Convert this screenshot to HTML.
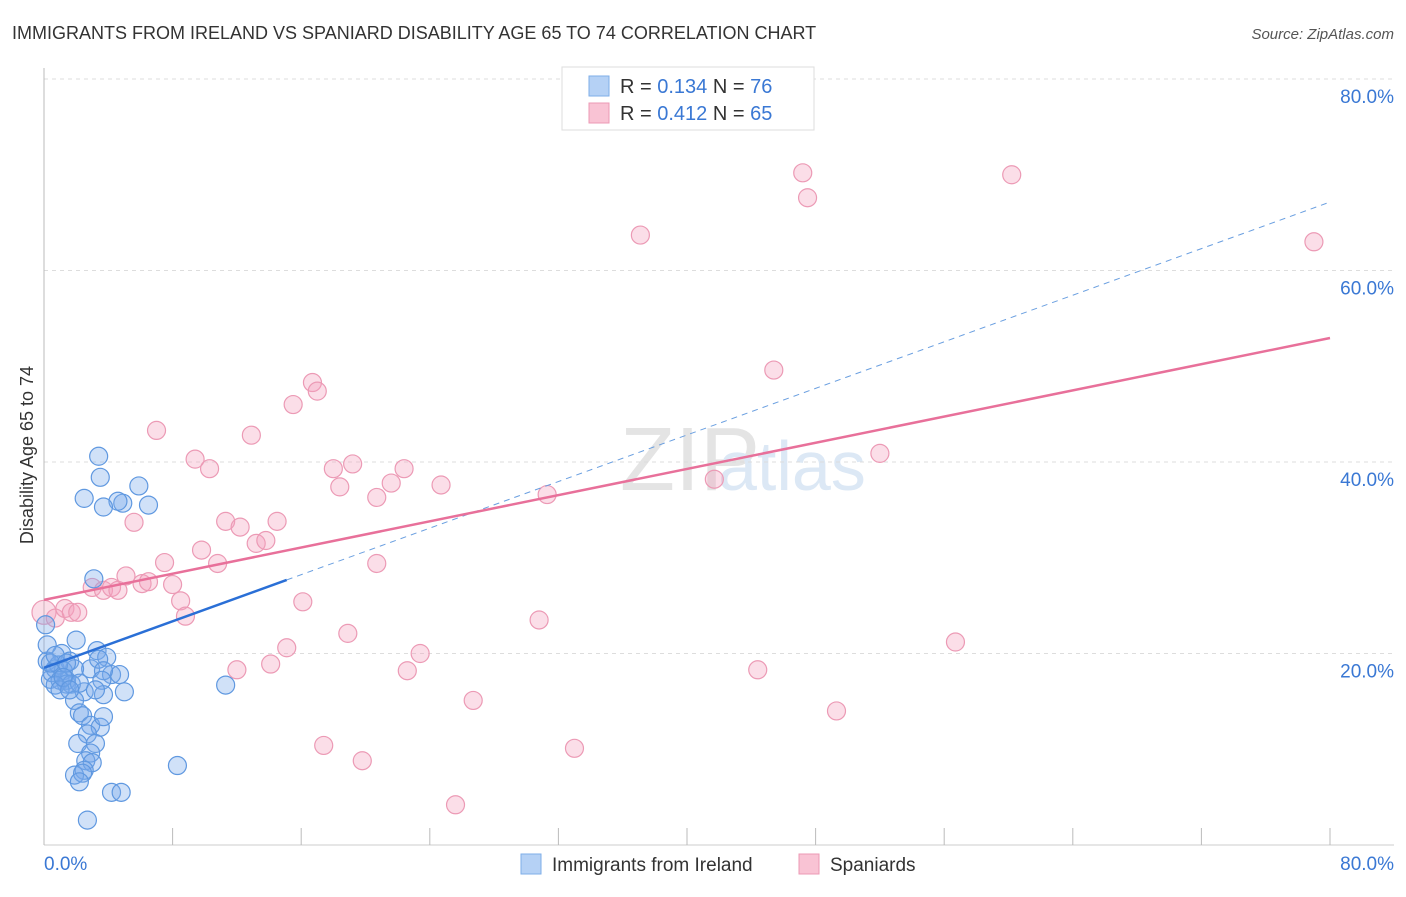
<!DOCTYPE html>
<html><head><meta charset="utf-8"><style>
body{margin:0;background:#fff;font-family:"Liberation Sans",sans-serif;}
svg text{font-family:"Liberation Sans",sans-serif;}
</style></head><body>
<svg id="chart" width="1406" height="892">
<text x="12" y="39" font-size="18" fill="#333">IMMIGRANTS FROM IRELAND VS SPANIARD DISABILITY AGE 65 TO 74 CORRELATION CHART</text>
<text x="1394" y="39" font-size="15" fill="#555" font-style="italic" text-anchor="end">Source: ZipAtlas.com</text>
<text x="620" y="490" font-size="90" fill="#e4e4e4" font-family="Liberation Serif">ZIP</text>
<text x="718" y="490" font-size="70" fill="#dce8f5">atlas</text>
<text transform="translate(33,455) rotate(-90)" font-size="18" fill="#333" text-anchor="middle">Disability Age 65 to 74</text>
<g id="grid"></g><g id="pts"></g><g id="lines"></g>
<g>
<rect x="562" y="67" width="252" height="63" fill="#fff" stroke="#ddd"/>
<rect x="589" y="76" width="20" height="20" fill="#b5d1f5" stroke="#7eaee8"/>
<rect x="589" y="103" width="20" height="20" fill="#f9c3d4" stroke="#ec9ab5"/>
<text x="620" y="93" font-size="20" fill="#333">R = <tspan fill="#3a78d4">0.134</tspan>   N = <tspan fill="#3a78d4">76</tspan></text>
<text x="620" y="120" font-size="20" fill="#333">R = <tspan fill="#3a78d4">0.412</tspan>   N = <tspan fill="#3a78d4">65</tspan></text>
</g>
<g>
<rect x="521" y="854" width="20" height="20" fill="#b5d1f5" stroke="#7eaee8"/>
<text x="552" y="871" font-size="19" fill="#333">Immigrants from Ireland</text>
<rect x="799" y="854" width="20" height="20" fill="#f9c3d4" stroke="#ec9ab5"/>
<text x="830" y="871" font-size="19" fill="#333">Spaniards</text>
</g>
</svg>
<script>
const yTicks=[20,40,60,80];
const yTickLabels=["20.0%","40.0%","60.0%","80.0%"];
const xTicks=[0,10,20,30,40,50,60,70,80];
const blueX=[3.4,3.5,2.5,4.9,5.9,4.6,3.7,6.5,3.1,2.0,3.3,3.9,2.9,4.2,4.7,5.0,2.5,3.4,1.4,0.4,0.2,0.7,1.1,1.6,1.9,1.2,0.9,0.5,1.0,1.4,1.7,2.2,0.7,0.4,3.7,3.6,3.7,1.9,2.2,2.4,2.9,3.5,3.7,2.7,2.1,3.2,2.9,2.6,3.0,2.5,1.9,2.4,2.2,4.2,4.8,2.7,8.3,11.3,0.1,0.2,0.7,1.4,3.2,1.0,1.2,1.6];
const blueY=[40.6,38.4,36.2,35.7,37.5,35.9,35.3,35.5,27.8,21.4,20.3,19.6,18.4,17.8,17.8,16.0,16.0,19.4,17.2,17.3,19.2,18.4,20.0,19.2,18.4,18.2,18.8,18.0,17.2,16.8,16.8,16.9,16.7,19.0,18.2,17.2,15.7,15.1,13.8,13.5,12.5,12.3,13.4,11.6,10.6,10.6,9.6,8.8,8.6,7.8,7.3,7.5,6.6,5.5,5.5,2.6,8.3,16.7,23.0,20.9,19.8,19.0,16.2,16.2,17.5,16.2];
const pinkX=[0,0.7,1.3,1.7,2.1,3.0,3.7,4.2,4.6,5.1,6.1,6.5,8.0,8.5,8.8,5.6,7.5,7.0,9.4,10.3,9.8,10.8,11.3,12.2,12.9,13.2,13.8,14.5,15.5,16.7,17.0,18.0,18.4,19.2,20.7,21.6,22.4,24.7,20.7,18.9,16.1,15.1,14.1,12.0,23.4,22.6,26.7,17.4,19.8,33.0,25.6,30.8,31.3,37.1,41.7,45.4,47.2,47.5,52.0,44.4,49.3,56.7,60.2,79.0];
const pinkY=[24.3,23.7,24.7,24.3,24.3,26.9,26.6,26.9,26.6,28.1,27.3,27.5,27.2,25.5,23.9,33.7,29.5,43.3,40.3,39.3,30.8,29.4,33.8,33.2,42.8,31.5,31.8,33.8,46.0,48.3,47.4,39.3,37.4,39.8,36.3,37.8,39.3,37.6,29.4,22.1,25.4,20.6,18.9,18.3,20.0,18.2,15.1,10.4,8.8,10.1,4.2,23.5,36.6,63.7,38.2,49.6,70.2,67.6,40.9,18.3,14.0,21.2,70.0,63.0];
const blueLine=[0,18.5,15.1,67.15,80];
const pinkLine=[0,25.6,80,52.95];
const NS="http://www.w3.org/2000/svg";
const X=v=>44+v*16.075, Y=v=>845-v*9.575;
function mk(t,a,p){const e=document.createElementNS(NS,t);for(const k in a)e.setAttribute(k,a[k]);p.appendChild(e);return e;}
const grid=document.getElementById('grid');
yTicks.forEach((t,i)=>{
 const l=mk('line',{x1:44,x2:1394,y1:Y(t),y2:Y(t),stroke:'#ddd','stroke-dasharray':'4,4'},grid);
 
 
 const tx=mk('text',{x:1394,y:Y(t)+24,'font-size':19,fill:'#3a78d4','text-anchor':'end'},grid);
 tx.textContent=yTickLabels[i];
 
 
});
const ax=mk('line',{x1:44,x2:44,y1:68,y2:845,stroke:'#bbb'},grid);


const axx=mk('line',{x1:44,x2:1394,y1:845,y2:845,stroke:'#ccc'},grid);


for(let v=0;v<=80;v+=8){const tk=mk('line',{x1:X(v),x2:X(v),y1:828,y2:845,stroke:'#bbb'},grid);
 
 }
[["0.0%",44,'start'],["80.0%",1394,'end']].forEach(a=>{const t=mk('text',{x:a[1],y:870,'font-size':19,fill:'#3a78d4','text-anchor':a[2]},grid);t.textContent=a[0];
 
 });
const pts=document.getElementById('pts');
pinkX.forEach((x,i)=>{const c=mk('circle',{cx:X(x),cy:Y(pinkY[i]),r:i==0?12:9,fill:'rgba(244,160,190,0.35)',stroke:'#ec9ab5','stroke-width':1.2},pts);
 
 });
blueX.forEach((x,i)=>{const c=mk('circle',{cx:X(x),cy:Y(blueY[i]),r:9,fill:'rgba(120,170,235,0.35)',stroke:'#5f98e0','stroke-width':1.2},pts);
 
 });
const ln=document.getElementById('lines');
const bs=(blueLine[3]-blueLine[1])/(blueLine[4]-blueLine[0]);
const b1=mk('line',{x1:X(0),y1:Y(blueLine[1]),x2:X(blueLine[2]),y2:Y(blueLine[1]+bs*blueLine[2]),stroke:'#2a6fd6','stroke-width':2.5},ln);


const b2=mk('line',{x1:X(blueLine[2]),y1:Y(blueLine[1]+bs*blueLine[2]),x2:X(80),y2:Y(blueLine[3]),stroke:'#6a9fe0','stroke-width':1,'stroke-dasharray':'6,5'},ln);


const p1=mk('line',{x1:X(pinkLine[0]),y1:Y(pinkLine[1]),x2:X(pinkLine[2]),y2:Y(pinkLine[3]),stroke:'#e8709a','stroke-width':2.5},ln);


</script>
</body></html>
